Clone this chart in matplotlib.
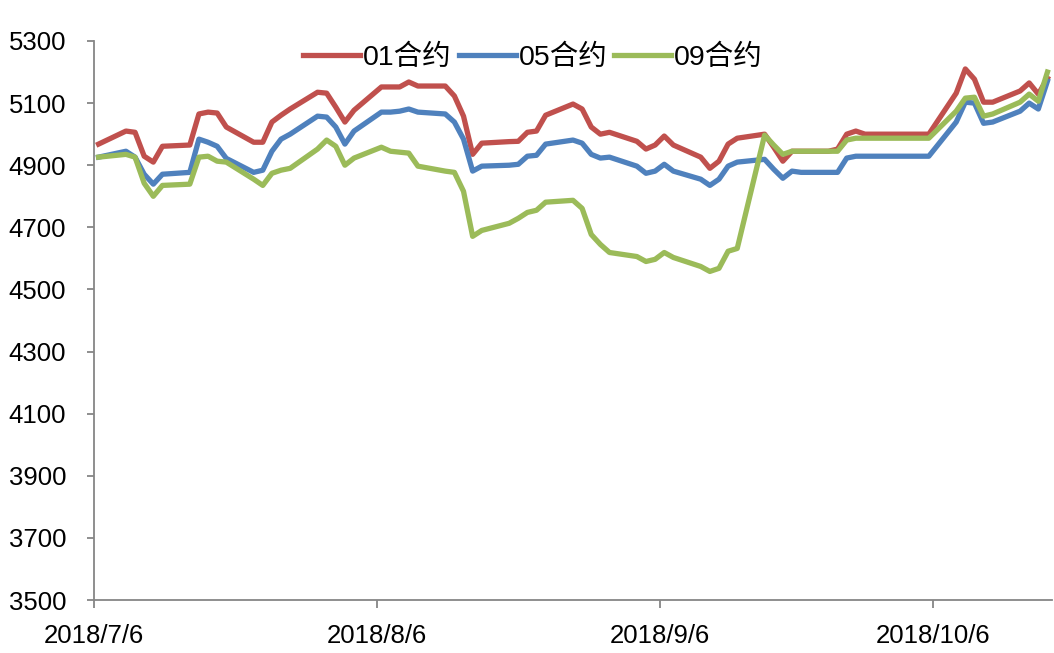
import matplotlib
matplotlib.use("Agg")
import matplotlib.pyplot as plt
import pandas as pd
import numpy as np

plt.rcParams['font.family'] = ['Liberation Sans', 'Noto Sans CJK SC']

# trading days (holiday rows carry the previous value)
dates = pd.bdate_range("2018-07-06", "2018-10-18")

c01 = [4968, 5010, 5006, 4929, 4910, 4961,
       4965, 5065, 5071, 5068, 5023,
       4974, 4974, 5039, 5061, 5081,
       5135, 5132, 5087, 5039, 5077,
       5152, 5152, 5152, 5168, 5155,
       5155, 5123, 5058, 4935, 4971,
       4976, 4977, 5006, 5010, 5061,
       5097, 5081, 5023, 5000, 5006,
       4977, 4952, 4965, 4994, 4965,
       4926, 4890, 4913, 4968, 4987,
       5000, 4958, 4913, 4945, 4945,
       4945, 4952, 5000, 5010, 5000,
       5000, 5000, 5000, 5000, 5000,
       5132, 5210, 5177, 5103, 5103,
       5139, 5165, 5129, 5180]

c05 = [4926, 4945, 4926, 4871, 4839, 4871,
       4877, 4984, 4974, 4961, 4922,
       4877, 4884, 4945, 4984, 5000,
       5058, 5055, 5023, 4968, 5010,
       5071, 5071, 5074, 5081, 5071,
       5065, 5039, 4984, 4881, 4897,
       4900, 4903, 4929, 4932, 4968,
       4981, 4971, 4935, 4923, 4926,
       4897, 4874, 4881, 4903, 4881,
       4855, 4835, 4855, 4897, 4910,
       4919, 4887, 4858, 4881, 4877,
       4877, 4877, 4923, 4929, 4929,
       4929, 4929, 4929, 4929, 4929,
       5039, 5103, 5100, 5035, 5039,
       5074, 5100, 5081, 5171]

c09 = [4926, 4935, 4926, 4842, 4800, 4835,
       4839, 4926, 4929, 4913, 4910,
       4855, 4835, 4874, 4884, 4890,
       4952, 4981, 4961, 4900, 4923,
       4958, 4945, 4942, 4939, 4897,
       4881, 4877, 4816, 4671, 4690,
       4713, 4729, 4748, 4755, 4781,
       4787, 4761, 4677, 4645, 4619,
       4606, 4590, 4597, 4619, 4603,
       4574, 4558, 4568, 4623, 4632,
       4997, 4965, 4935, 4945, 4945,
       4945, 4945, 4981, 4987, 4987,
       4987, 4987, 4987, 4987, 4987,
       5074, 5116, 5119, 5058, 5065,
       5103, 5129, 5106, 5200]

tick_dates = pd.to_datetime(["2018-07-06", "2018-08-06", "2018-09-06", "2018-10-06"])
tick_labels = ["2018/7/6", "2018/8/6", "2018/9/6", "2018/10/6"]

fig = plt.figure(figsize=(10.54, 6.53), dpi=100)
ax = fig.add_axes([94 / 1054, 53 / 653, 958 / 1054, 559 / 653])

x = dates + pd.Timedelta(hours=12)
ax.plot(x, c01, color='#C0504D', lw=3.8, label='01合约', solid_joinstyle='round')
ax.plot(x, c05, color='#4F81BD', lw=3.8, label='05合约', solid_joinstyle='round')
ax.plot(x, c09, color='#9BBB59', lw=3.8, label='09合约', solid_joinstyle='round')

ax.set_xlim(pd.Timestamp("2018-07-06"), pd.Timestamp("2018-10-19"))
ax.set_ylim(3500, 5300)
ax.set_yticks(np.arange(3500, 5301, 200))
ax.set_xticks(tick_dates)
ax.set_xticklabels(tick_labels)

for s in ['top', 'right']:
    ax.spines[s].set_visible(False)
for s in ['left', 'bottom']:
    ax.spines[s].set_color('#868686')
    ax.spines[s].set_linewidth(1.3)
ax.tick_params(axis='y', length=5, width=1.3, color='#868686', pad=15, labelsize=18.5)
ax.tick_params(axis='x', length=6, width=1.3, color='#868686', pad=11, labelsize=18.5)

fig.legend(loc='center', bbox_to_anchor=(533 / 1054, 0.912), ncol=3, frameon=False,
           fontsize=20.5, handlelength=2.0, handletextpad=0.1, columnspacing=0.25)

fig.savefig("out.png", dpi=100)
